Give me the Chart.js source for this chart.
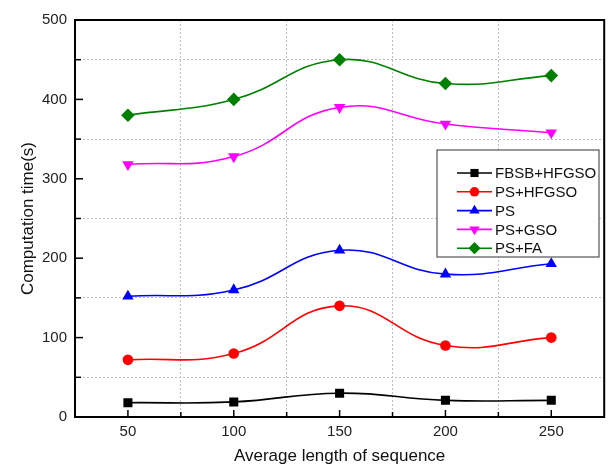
<!DOCTYPE html>
<html>
<head>
<meta charset="utf-8">
<script src="https://cdn.jsdelivr.net/npm/chart.js@4.4.0/dist/chart.umd.min.js"></script>
<style>
  html, body { margin: 0; padding: 0; background: #fff; }
  #wrap { width: 611px; height: 467px; }
</style>
</head>
<body>
<div id="wrap"><canvas id="myChart" width="611" height="467"></canvas></div>
<script>
// values
const lengths = [50, 100, 150, 200, 250];
const fbsbHfgso = [18, 19, 30, 21, 21];
const psHfgso = [72, 80, 140, 90, 100];
const ps = [152, 160, 210, 180, 193];
const psGso = [318, 328, 390, 369, 358];
const psFa = [380, 400, 450, 420, 430];

const seriesNames = ["FBSB+HFGSO", "PS+HFGSO", "PS", "PS+GSO", "PS+FA"];
const seriesColors = ["#000000", "#ff0000", "#0000ff", "#ff00ff", "#008000"];
const seriesMarkers = ["rect", "circle", "triangle", "triangle", "rectRot"];
const markerRotation = [0, 0, 0, 180, 0];
const markerRadius = [6.4, 5.3, 6.6, 6.6, 6.8];

const xTicks = [50, 100, 150, 200, 250];
const yTicks = [0, 100, 200, 300, 400, 500];

const toPoints = (vals) => vals.map((v, i) => ({ x: lengths[i], y: v }));

const datasets = [fbsbHfgso, psHfgso, ps, psGso, psFa].map((vals, i) => ({
  label: seriesNames[i],
  data: toPoints(vals),
  borderColor: seriesColors[i],
  backgroundColor: seriesColors[i],
  borderWidth: 1.6,
  tension: 0.45,
  pointStyle: seriesMarkers[i],
  pointRotation: markerRotation[i],
  pointRadius: markerRadius[i],
  pointBorderWidth: 0,
  fill: false,
}));

const drawMarker = (ctx, style, rot, r, x, y, color) => {
  ctx.save();
  ctx.fillStyle = color;
  ctx.translate(x, y);
  ctx.rotate((rot * Math.PI) / 180);
  ctx.beginPath();
  if (style === "rect") {
    const s = r * Math.SQRT1_2;
    ctx.rect(-s, -s, 2 * s, 2 * s);
  } else if (style === "rectRot") {
    ctx.moveTo(0, -r);
    ctx.lineTo(r, 0);
    ctx.lineTo(0, r);
    ctx.lineTo(-r, 0);
    ctx.closePath();
  } else if (style === "triangle") {
    const s = r * Math.sqrt(3);
    ctx.moveTo(0, -r);
    ctx.lineTo(s / 2, r / 2);
    ctx.lineTo(-s / 2, r / 2);
    ctx.closePath();
  } else {
    ctx.arc(0, 0, r, 0, Math.PI * 2);
  }
  ctx.fill();
  ctx.restore();
};

// frame, inward tick marks and the boxed legend
const framePlugin = {
  id: "frame",
  afterDraw(chart) {
    const { ctx, chartArea: a, scales } = chart;
    ctx.save();
    ctx.strokeStyle = "#000";
    ctx.lineWidth = 1.5;
    for (let v = 50; v <= 250; v += 25) {
      const px = scales.x.getPixelForValue(v);
      const len = v % 50 === 0 ? 7 : 5;
      ctx.beginPath();
      ctx.moveTo(px, a.bottom);
      ctx.lineTo(px, a.bottom - len);
      ctx.stroke();
    }
    for (let v = 50; v < 500; v += 50) {
      const py = scales.y.getPixelForValue(v);
      const len = v % 100 === 0 ? 8 : 6;
      ctx.beginPath();
      ctx.moveTo(a.left, py);
      ctx.lineTo(a.left + len, py);
      ctx.stroke();
    }
    ctx.lineWidth = 2;
    ctx.strokeRect(a.left, a.top, a.right - a.left, a.bottom - a.top);

    // legend
    const bx = 437, by = 150, bw = 162, bh = 107;
    ctx.fillStyle = "#fff";
    ctx.fillRect(bx, by, bw, bh);
    ctx.strokeStyle = "#555";
    ctx.lineWidth = 1.2;
    ctx.strokeRect(bx, by, bw, bh);
    ctx.font = "15px 'Liberation Sans', Arial, sans-serif";
    ctx.textBaseline = "middle";
    chart.data.datasets.forEach((ds, i) => {
      const y = 173 + i * 18.8;
      ctx.strokeStyle = ds.borderColor;
      ctx.lineWidth = 1.6;
      ctx.beginPath();
      ctx.moveTo(457, y);
      ctx.lineTo(492, y);
      ctx.stroke();
      drawMarker(ctx, ds.pointStyle, ds.pointRotation, ds.pointRadius * 0.9, 474.5, y, ds.borderColor);
      ctx.fillStyle = "#111";
      ctx.fillText(ds.label, 495, y + 1);
    });
    ctx.restore();
  },
};

const gridColor = (major) => (ctx) =>
  ctx.tick && ctx.tick.value % major !== 0 ? "#bdbdbd" : "rgba(0,0,0,0)";

new Chart(document.getElementById("myChart"), {
  type: "line",
  data: { datasets },
  options: {
    responsive: false,
    animation: false,
    layout: { padding: { left: 0, right: 3, top: 20, bottom: 0 } },
    plugins: { legend: { display: false }, tooltip: { enabled: false } },
    scales: {
      x: {
        type: "linear",
        min: 25,
        max: 275,
        afterBuildTicks: (s) => {
          s.ticks = [25, 75, 125, 175, 225, 275].concat(xTicks).sort((p, q) => p - q).map((v) => ({ value: v }));
        },
        afterFit: (s) => { s.height = 50; },
        grid: { color: gridColor(50), lineWidth: 1, drawTicks: false },
        border: { display: false, dash: [2, 2] },
        ticks: {
          autoSkip: false,
          maxRotation: 0,
          padding: 6,
          color: "#222",
          font: { family: "'Liberation Sans', Arial", size: 15 },
          callback: (v) => (xTicks.includes(v) ? String(v) : ""),
        },
        title: {
          display: true,
          text: "Average length of sequence",
          color: "#111",
          font: { family: "'Liberation Sans', Arial", size: 17 },
          padding: { top: 2, bottom: 0 },
        },
      },
      y: {
        min: 0,
        max: 500,
        afterBuildTicks: (s) => {
          const t = [];
          for (let v = 0; v <= 500; v += 50) t.push({ value: v });
          s.ticks = t;
        },
        afterFit: (s) => { s.width = 75; },
        grid: { color: gridColor(100), lineWidth: 1, drawTicks: false },
        border: { display: false, dash: [2, 2] },
        ticks: {
          autoSkip: false,
          padding: 8,
          color: "#222",
          font: { family: "'Liberation Sans', Arial", size: 15 },
          callback: (v) => (yTicks.includes(v) ? String(v) : ""),
        },
        title: {
          display: true,
          text: "Computation time(s)",
          color: "#111",
          font: { family: "'Liberation Sans', Arial", size: 17 },
          padding: { top: 18, bottom: 0 },
        },
      },
    },
  },
  plugins: [framePlugin],
});
</script>
</body>
</html>
